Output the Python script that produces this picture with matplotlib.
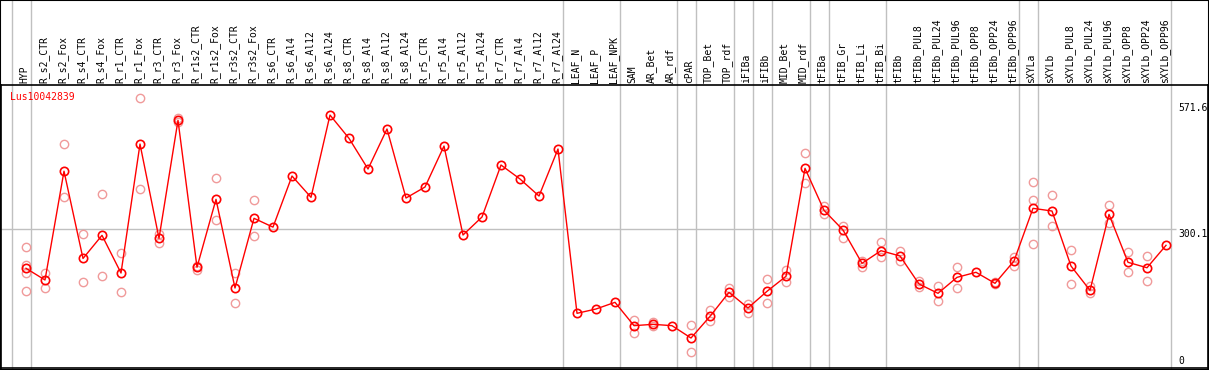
import matplotlib
matplotlib.use("Agg")
import matplotlib.pyplot as plt
from matplotlib.patches import Rectangle

# sample names along the top
labels = ["HYP", "R_s2_CTR", "R_s2_Fox", "R_s4_CTR", "R_s4_Fox", "R_r1_CTR", "R_r1_Fox",
          "R_r3_CTR", "R_r3_Fox", "R_r1s2_CTR", "R_r1s2_Fox", "R_r3s2_CTR", "R_r3s2_Fox",
          "R_s6_CTR", "R_s6_Al4", "R_s6_Al12", "R_s6_Al24", "R_s8_CTR", "R_s8_Al4",
          "R_s8_Al12", "R_s8_Al24", "R_r5_CTR", "R_r5_Al4", "R_r5_Al12", "R_r5_Al24",
          "R_r7_CTR", "R_r7_Al4", "R_r7_Al12", "R_r7_Al24", "LEAF_N", "LEAF_P", "LEAF_NPK",
          "SAM", "AR_Bet", "AR_rdf", "cPAR", "TOP_Bet", "TOP_rdf", "iFIBa", "iFIBb",
          "MID_Bet", "MID_rdf", "tFIBa", "tFIB_Gr", "tFIB_Li", "tFIB_Bi", "tFIBb",
          "tFIBb_PUL8", "tFIBb_PUL24", "tFIBb_PUL96", "tFIBb_OPP8", "tFIBb_OPP24",
          "tFIBb_OPP96", "sXYLa", "sXYLb", "sXYLb_PUL8", "sXYLb_PUL24", "sXYLb_PUL96",
          "sXYLb_OPP8", "sXYLb_OPP24", "sXYLb_OPP96"]

# mean expression per sample
means = [214.8, 189.6, 424, 236, 285.8, 204.6, 482.5, 279.4, 533.6, 217, 363.4, 172.3, 322.5,
         303.5, 413.6, 367.7, 545, 494.8, 428.7, 514.9, 366.2, 389.9, 478.2, 286.5, 325.3,
         437.3, 407.2, 370.5, 471.8, 117.8, 127.1, 141.5, 91.2, 94.1, 91.2, 64.6, 111.3,
         163, 129.3, 165.2, 197.5, 430.2, 339.7, 297.3, 225.5, 252.7, 241.3, 181, 160.9,
         195.3, 206.2, 182.4, 230.5, 344, 338.2, 219.7, 167.3, 331, 227.7, 216, 264.3]

# individual replicates
reps = [[260, 222, 204, 166], [205, 172], [482, 368], [289, 185], [374, 198], [247, 164],
        [582, 385], [289, 270], [539, 529], [220, 211], [409, 318], [205, 139], [361, 284],
        [], [], [], [], [], [], [], [], [], [], [], [], [], [], [], [], [], [], [],
        [103, 75], [99, 90], [], [93, 35], [124, 101], [173, 153], [138, 118], [191, 141],
        [211, 185], [463, 398], [350, 331], [307, 279], [231, 218], [272, 240], [252, 231],
        [188, 175], [177, 145], [218, 173], [], [185, 180], [240, 220], [400, 361, 268],
        [372, 305], [254, 182], [177, 161], [351, 312], [250, 207], [241, 187], []]

# group separators sit just right of these sample indices
group_ends = [-1, 0, 28, 31, 34, 35, 37, 38, 39, 41, 42, 45, 52, 53, 60]

W, H = 1209, 370
fig = plt.figure(figsize=(W / 100, H / 100), dpi=100)
top_px, bot_px = 85, 368
ax = fig.add_axes([1 / W, (H - bot_px) / H, 1207 / W, (bot_px - top_px) / H])

x0 = (1 - 26) / 19
x1 = (1208 - 26) / 19
ax.set_xlim(x0, x1)
ymax = 609.7
ax.set_ylim(0, ymax)
ax.set_xticks([])
ax.set_yticks([])
for s in ax.spines.values():
    s.set_color("black")
    s.set_linewidth(1.2)

grid_c = "#c0c0c0"
up = bot_px / (bot_px - top_px)
for g in group_ends:
    ax.axvline(g + 0.25, ymin=0, ymax=up, color=grid_c, lw=1, clip_on=False, zorder=1)
ax.hlines(300.1, x0, 60.55, color=grid_c, lw=1, zorder=1)

xs = list(range(len(labels)))
for i, r in enumerate(reps):
    if r:
        ax.plot([i] * len(r), r, ls="none", marker="o", ms=6, mfc="none",
                mec="#f09a9a", mew=1, zorder=2)
ax.plot(xs, means, color="red", lw=1, marker="o", ms=6, mfc="none", mec="red",
        mew=1.2, zorder=3)

mono = "DejaVu Sans Mono"
for i, lab in enumerate(labels):
    ax.text(i - 0.08, 1.007, lab, transform=ax.get_xaxis_transform(), rotation=90,
            ha="center", va="bottom", fontsize=7, family=mono, clip_on=False)

ax.text(-0.84, 584, "Lus10042839", color="red", fontsize=7, family=mono,
        ha="left", va="center")
rx = (1178 - 26) / 19
ax.text(rx, 571.6, "571.6", fontsize=7, family=mono, ha="left", va="top")
ax.text(rx, 300.1, "300.1", fontsize=7, family=mono, ha="left", va="top")
ax.text(rx, 4, "0", fontsize=7, family=mono, ha="left", va="bottom")

fig.patches.append(Rectangle((0, 0), 1, 1, transform=fig.transFigure, fill=False,
                             edgecolor="black", lw=1.5, zorder=5))

fig.savefig("out.png", dpi=100)
